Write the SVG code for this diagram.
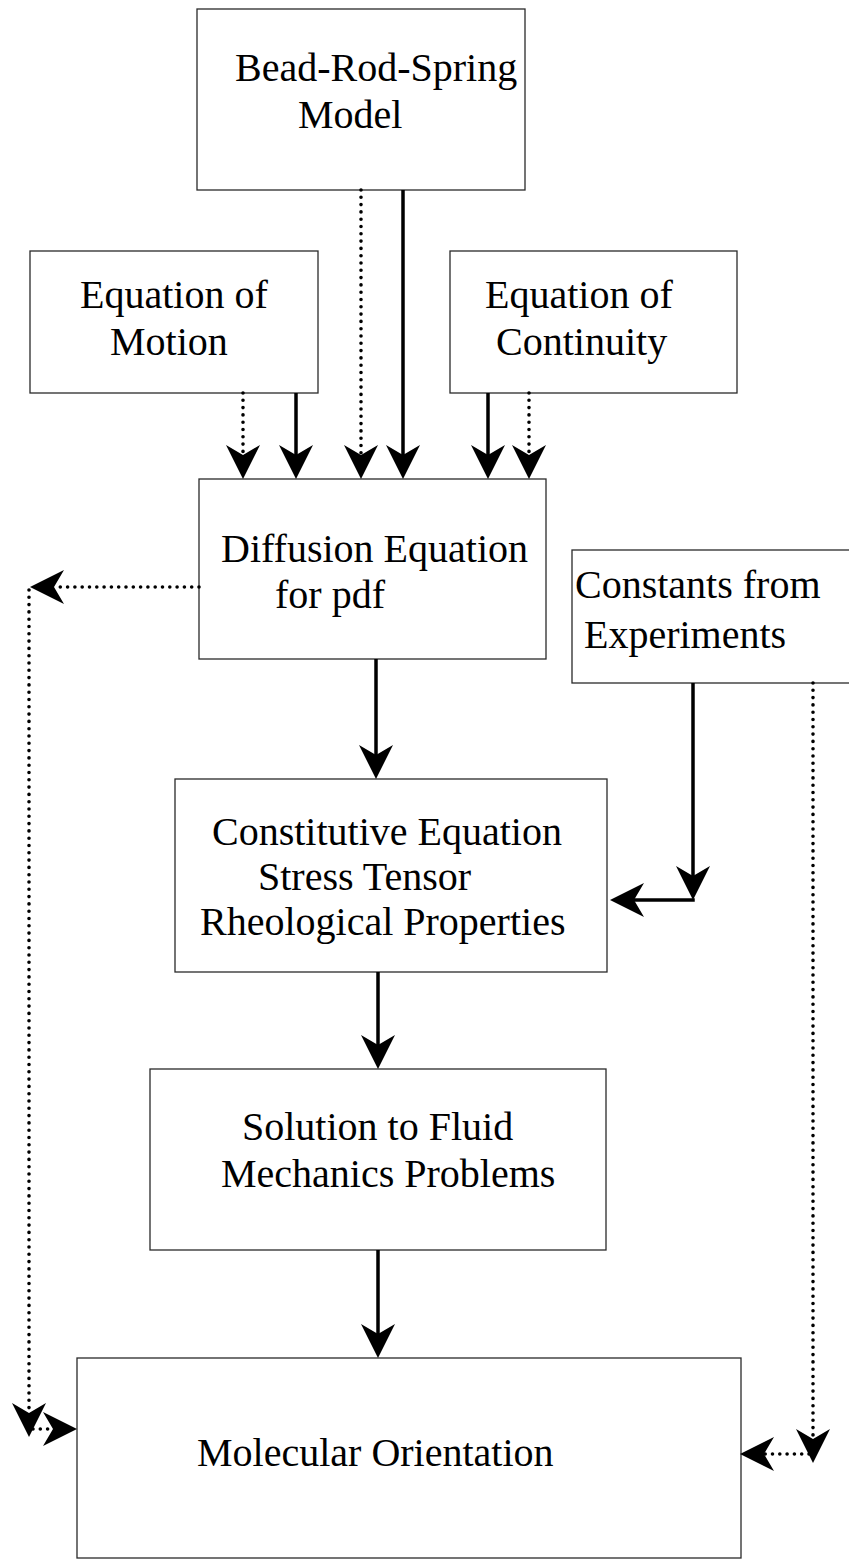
<svg xmlns="http://www.w3.org/2000/svg" width="849" height="1562" viewBox="0 0 849 1562">
  <style>
    .box { fill: #ffffff; stroke: #2a2a2a; stroke-width: 1.3; }
    .lbl { font-family: "Liberation Serif", "Times New Roman", serif; font-size: 40px; fill: #000000; }
    .solid { fill: none; stroke: #000000; stroke-width: 3.5; }
    .dot { fill: none; stroke: #000000; stroke-width: 3.6; stroke-linecap: round; stroke-dasharray: 0 7.3; }
  </style>
  <defs>
    <!-- barbed arrowhead; the shaft stops at the notch, the tip sits 24px further on -->
    <marker id="head" markerUnits="userSpaceOnUse" orient="auto" refX="0" refY="0" markerWidth="60" markerHeight="60" overflow="visible">
      <path d="M24,0 L-10,-17 L0,0 L-10,17 Z" fill="#000000"/>
    </marker>
  </defs>
  <rect width="849" height="1562" fill="#ffffff"/>

  <g id="bead-rod-spring">
    <rect class="box" x="197" y="9" width="328" height="181"/>
    <text class="lbl" x="235" y="81">Bead-Rod-Spring</text>
    <text class="lbl" x="298" y="128">Model</text>
  </g>

  <g id="equation-of-motion">
    <rect class="box" x="30" y="251" width="288" height="142"/>
    <text class="lbl" x="80" y="308">Equation of</text>
    <text class="lbl" x="110" y="355">Motion</text>
  </g>

  <g id="equation-of-continuity">
    <rect class="box" x="450" y="251" width="287" height="142"/>
    <text class="lbl" x="485" y="308">Equation of</text>
    <text class="lbl" x="496" y="355">Continuity</text>
  </g>

  <g id="diffusion-equation">
    <rect class="box" x="199" y="479" width="347" height="180"/>
    <text class="lbl" x="221" y="562">Diffusion Equation</text>
    <text class="lbl" x="275" y="608">for pdf</text>
  </g>

  <g id="constants">
    <rect class="box" x="572" y="550" width="290" height="133"/>
    <text class="lbl" x="575" y="598">Constants from</text>
    <text class="lbl" x="584" y="648">Experiments</text>
  </g>

  <g id="constitutive-equation">
    <rect class="box" x="175" y="779" width="432" height="193"/>
    <text class="lbl" x="212" y="845">Constitutive Equation</text>
    <text class="lbl" x="258" y="890">Stress Tensor</text>
    <text class="lbl" x="200" y="935">Rheological Properties</text>
  </g>

  <g id="fluid-mechanics">
    <rect class="box" x="150" y="1069" width="456" height="181"/>
    <text class="lbl" x="242" y="1140">Solution to Fluid</text>
    <text class="lbl" x="221" y="1187">Mechanics Problems</text>
  </g>

  <g id="molecular-orientation">
    <rect class="box" x="77" y="1358" width="664" height="200"/>
    <text class="lbl" x="197" y="1466">Molecular Orientation</text>
  </g>

  <g id="connectors">
    <!-- into the diffusion equation -->
    <path class="dot" d="M361,190 V455" marker-end="url(#head)"/>
    <path class="solid" d="M403,190 V455" marker-end="url(#head)"/>
    <path class="dot" d="M243,393 V455" marker-end="url(#head)"/>
    <path class="solid" d="M296,393 V455" marker-end="url(#head)"/>
    <path class="solid" d="M488,393 V455" marker-end="url(#head)"/>
    <path class="dot" d="M529,393 V455" marker-end="url(#head)"/>

    <!-- dotted bypass on the left -->
    <path class="dot" d="M199,587 H54" marker-end="url(#head)"/>
    <path class="dot" d="M29,590 V1413" marker-end="url(#head)"/>
    <path class="dot" d="M33,1429 H53" marker-end="url(#head)"/>

    <!-- main chain -->
    <path class="solid" d="M376,659 V755" marker-end="url(#head)"/>
    <path class="solid" d="M378,972 V1045" marker-end="url(#head)"/>
    <path class="solid" d="M378,1250 V1334" marker-end="url(#head)"/>

    <!-- constants into the constitutive equation -->
    <path class="solid" d="M693,683 V876" marker-end="url(#head)"/>
    <path class="solid" d="M694.75,900 H634" marker-end="url(#head)"/>

    <!-- dotted bypass on the right -->
    <path class="dot" d="M813,683 V1439" marker-end="url(#head)"/>
    <path class="dot" d="M809,1454 H764" marker-end="url(#head)"/>
  </g>
</svg>
